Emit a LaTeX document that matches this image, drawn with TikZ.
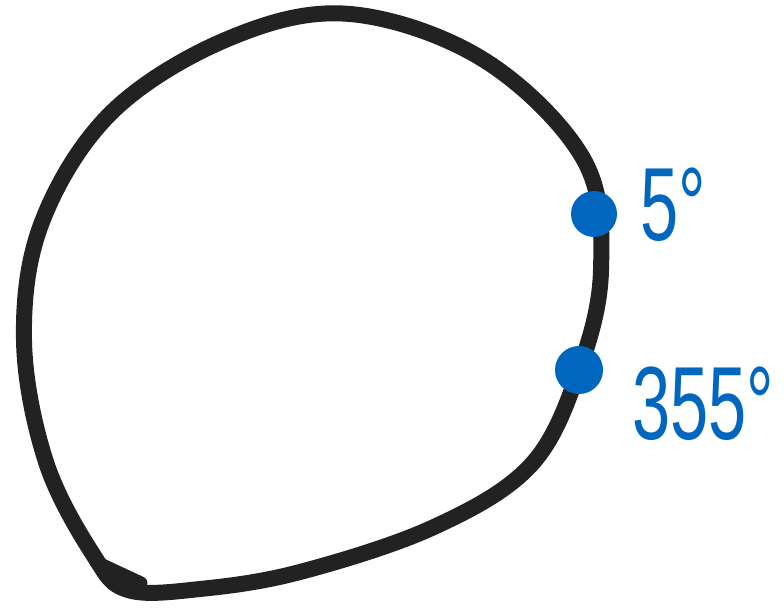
\documentclass[tikz,border=0pt]{standalone}
\usepackage{fontspec}
\setmainfont{Liberation Sans}
\definecolor{ink}{RGB}{34,34,34}
\definecolor{pen}{RGB}{0,102,190}
\tikzset{
  loop/.style={draw=ink, line width=16pt, line cap=round, line join=round},
  marker/.style={circle, fill=pen, inner sep=0pt, minimum size=#1},
  anglelabel/.style={text=pen, anchor=base west, inner sep=0pt, xscale=0.66,
    font=\fontsize{104}{104}\selectfont}
}
\begin{document}
\begin{tikzpicture}[x=1pt,y=-1pt]
  \useasboundingbox (0,0) rectangle (784,609);
  % hand-drawn closed loop
  \draw[loop] plot[smooth cycle, tension=0.6] coordinates {
    (94,556) (46,462) (24,340) (42,222) (112,112) (230,38)
    (350,14) (484,60) (584,160) (601,270) (579,370) (531,465)
    (434,527) (300,572) (200,589) (128,590)};
  % overlapping pen stroke where the loop closes
  \draw[draw=ink, line width=13pt, line cap=round] (96,562) -- (141,583);
  % angle markers
  \node[marker=46pt] (m5) at (594,214) {};
  \node[marker=48pt] (m355) at (579,370) {};
  \node[anglelabel] (l5) at (640,241) {5°};
  \node[anglelabel] (l355) at (632,439) {355°};
\end{tikzpicture}
\end{document}
